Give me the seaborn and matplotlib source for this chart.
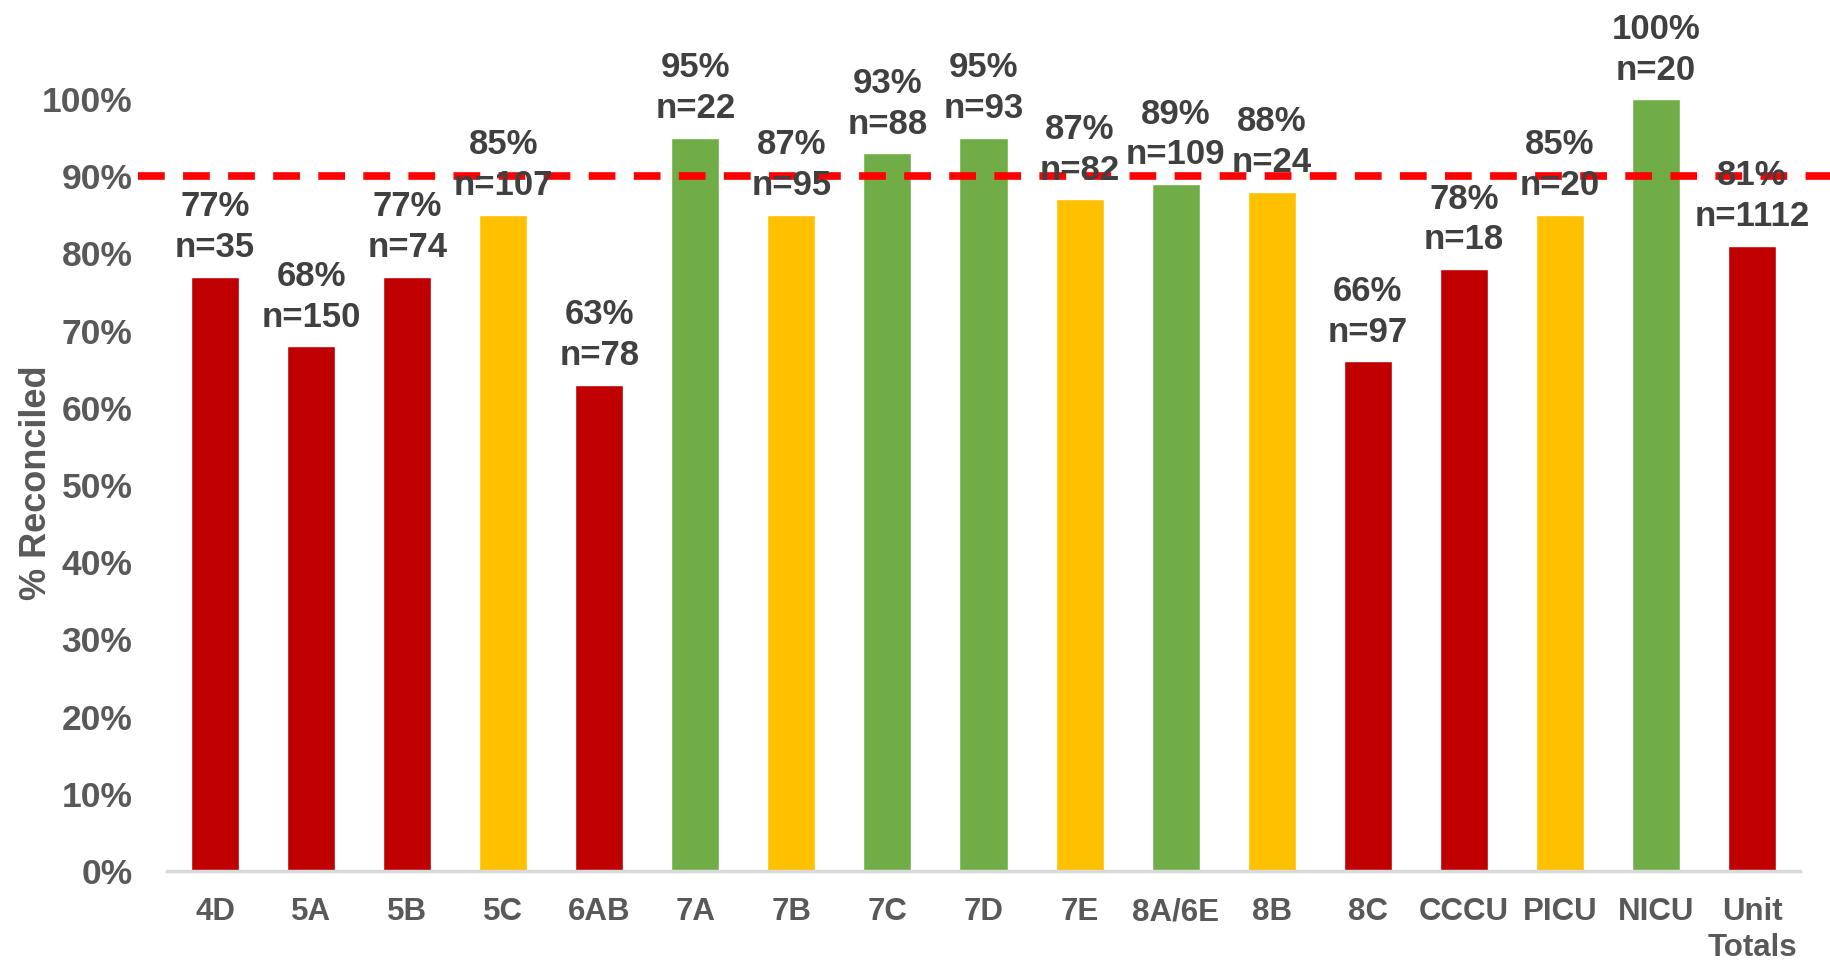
import matplotlib
matplotlib.use("Agg")
import matplotlib.pyplot as plt
import seaborn as sns
import pandas as pd
from matplotlib.ticker import FuncFormatter

units = ["4D", "5A", "5B", "5C", "6AB", "7A", "7B", "7C", "7D", "7E",
         "8A/6E", "8B", "8C", "CCCU", "PICU", "NICU", "Unit\nTotals"]
bar_pct = [77, 68, 77, 85, 63, 95, 85, 93, 95, 87, 89, 88, 66, 78, 85, 100, 81]
label_pct = [77, 68, 77, 85, 63, 95, 87, 93, 95, 87, 89, 88, 66, 78, 85, 100, 81]
n_counts = [35, 150, 74, 107, 78, 22, 95, 88, 93, 82, 109, 24, 97, 18, 20, 20, 1112]
status = ["red", "red", "red", "yellow", "red", "green", "yellow", "green", "green",
          "yellow", "green", "yellow", "red", "red", "yellow", "green", "red"]
target = 0.90
y_ticks = [i / 10 for i in range(11)]

status_colors = {"red": "#C00000", "yellow": "#FFC000", "green": "#70AD47"}

sns.set_style("white")
plt.rcParams["font.family"] = ["Liberation Sans", "DejaVu Sans"]
plt.rcParams["font.weight"] = "bold"

df = pd.DataFrame({"unit": units, "value": [v / 100 for v in bar_pct], "status": status})
palette = {u: status_colors[s] for u, s in zip(units, status)}

fig = plt.figure(figsize=(18.31, 9.61), dpi=100)
ax = fig.add_axes([167 / 1831, 90 / 961, (1800 - 167) / 1831, (871 - 99) / 961])

sns.barplot(data=df, x="unit", y="value", hue="unit", palette=palette, legend=False,
            width=0.5, saturation=1, ax=ax)

ax.set_ylim(0, 1.0)
ax.set_xlim(-0.5, len(units) - 0.5)
ax.set_yticks(y_ticks)
ax.yaxis.set_major_formatter(FuncFormatter(lambda v, p: f"{v*100:.0f}%"))
ax.tick_params(axis="y", length=0, pad=25, labelsize=25.5, labelcolor="#595959")
ax.tick_params(axis="x", length=0, pad=19, labelsize=22.5, labelcolor="#595959")
for lbl in ax.get_xticklabels() + ax.get_yticklabels():
    lbl.set_fontweight("bold")
for lbl in ax.get_xticklabels():
    lbl.set_linespacing(1.25)

for side in ["top", "right", "left"]:
    ax.spines[side].set_visible(False)
ax.spines["bottom"].set_color("#D9D9D9")
ax.spines["bottom"].set_linewidth(2.5)

ax.set_xlabel("")
ax.set_ylabel("% Reconciled", fontsize=26, fontweight="bold", color="#595959")
ax.yaxis.set_label_coords(-0.069, 0.503)

line = ax.axhline(target, xmin=-0.018, xmax=1.02, color="#FF0000", linewidth=5.5,
                  clip_on=False, zorder=5)
line.set_dashes([3.5, 2.4])

for i, (bp, lp, n) in enumerate(zip(bar_pct, label_pct, n_counts)):
    ax.annotate(f"{lp}%\nn={n}", xy=(i, bp / 100), xytext=(0, 9),
                textcoords="offset points", ha="center", va="bottom",
                fontsize=25, fontweight="bold", color="#404040",
                linespacing=1.3, annotation_clip=False, zorder=6)

fig.savefig("out.png", dpi=100)
